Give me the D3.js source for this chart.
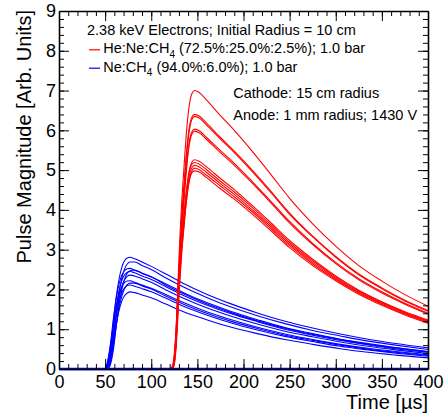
<!DOCTYPE html>
<html lang="en">
<head>
<meta charset="UTF-8">
<title>Pulse Magnitude vs Time</title>
<style>
  body { margin: 0; background: #fff; }
  svg { display: block; font-family: "Liberation Sans", Arial, Helvetica, sans-serif; }
  .axis path, .axis line { stroke: #000; }
  .axis text { font-size: 18px; fill: #000; }
</style>
</head>
<body>
<svg id="chart" width="445" height="418"></svg>
<script src="https://d3js.org/d3.v7.min.js"></script>
<script>
// time grid (µs) shared by the red (He:Ne:CH4) pulses
var redTimes = [0, 120, 123, 125, 127, 129, 131, 133, 135, 138, 141, 144, 147, 152, 160, 175, 190, 210, 230, 250, 275, 300, 325, 350, 375, 400];
var redPulses = [
  [0, 0, 0.05, 0.30, 1.00, 2.20, 3.30, 4.20, 4.90, 5.90, 6.60, 6.92, 7.00, 6.95, 6.76, 6.37, 6.00, 5.46, 4.88, 4.29, 3.65, 3.09, 2.60, 2.21, 1.87, 1.58],
  [0, 0, 0.04, 0.28, 0.92, 2.01, 3.01, 3.84, 4.48, 5.40, 6.04, 6.33, 6.40, 6.36, 6.18, 5.82, 5.48, 4.99, 4.46, 3.92, 3.34, 2.83, 2.39, 2.04, 1.73, 1.47],
  [0, 0, 0.02, 0.18, 0.75, 1.80, 2.85, 3.70, 4.40, 5.30, 5.95, 6.27, 6.35, 6.31, 6.13, 5.78, 5.44, 4.95, 4.43, 3.89, 3.32, 2.81, 2.37, 2.02, 1.71, 1.45],
  [0, 0, 0.04, 0.26, 0.86, 1.89, 2.84, 3.62, 4.22, 5.08, 5.69, 5.96, 6.03, 5.99, 5.82, 5.49, 5.17, 4.70, 4.21, 3.71, 3.16, 2.68, 2.27, 1.94, 1.65, 1.40],
  [0, 0, 0.02, 0.15, 0.65, 1.60, 2.60, 3.40, 4.05, 4.95, 5.60, 5.90, 5.98, 5.94, 5.77, 5.44, 5.12, 4.66, 4.17, 3.67, 3.13, 2.65, 2.24, 1.91, 1.63, 1.38],
  [0, 0, 0.04, 0.23, 0.75, 1.65, 2.48, 3.16, 3.68, 4.43, 4.96, 5.20, 5.26, 5.22, 5.08, 4.79, 4.51, 4.10, 3.67, 3.23, 2.76, 2.34, 1.98, 1.69, 1.44, 1.23],
  [0, 0, 0.08, 0.40, 1.05, 1.95, 2.75, 3.35, 3.80, 4.45, 4.93, 5.14, 5.19, 5.15, 5.01, 4.72, 4.45, 4.05, 3.62, 3.18, 2.72, 2.31, 1.96, 1.67, 1.42, 1.21],
  [0, 0, 0.04, 0.22, 0.73, 1.61, 2.41, 3.07, 3.58, 4.32, 4.83, 5.06, 5.12, 5.08, 4.94, 4.66, 4.39, 3.99, 3.57, 3.14, 2.68, 2.28, 1.93, 1.65, 1.40, 1.19],
  [0, 0, 0.01, 0.12, 0.55, 1.35, 2.20, 2.90, 3.45, 4.20, 4.72, 4.98, 5.05, 5.01, 4.87, 4.60, 4.33, 3.94, 3.52, 3.10, 2.64, 2.25, 1.91, 1.63, 1.38, 1.17],
  [0, 0, 0.03, 0.21, 0.71, 1.56, 2.35, 2.99, 3.49, 4.20, 4.70, 4.93, 4.98, 4.95, 4.81, 4.53, 4.27, 3.88, 3.47, 3.05, 2.60, 2.22, 1.88, 1.60, 1.36, 1.15]
];

// time grid (µs) shared by the blue (Ne:CH4) pulses
var blueTimes = [0, 50, 53, 56, 59, 62, 65, 68, 71, 74, 77, 82, 90, 100, 115, 135, 160, 185, 215, 245, 275, 305, 335, 365, 400];
var bluePulses = [
  [0, 0, 0.15, 0.55, 1.20, 1.80, 2.25, 2.55, 2.72, 2.79, 2.81, 2.77, 2.69, 2.58, 2.40, 2.15, 1.88, 1.65, 1.41, 1.20, 1.03, 0.88, 0.75, 0.64, 0.53],
  [0, 0, 0.04, 0.24, 0.73, 1.35, 1.89, 2.27, 2.51, 2.64, 2.69, 2.69, 2.60, 2.50, 2.30, 2.06, 1.80, 1.57, 1.34, 1.14, 0.97, 0.83, 0.70, 0.60, 0.49],
  [0, 0, 0.23, 0.68, 1.27, 1.77, 2.13, 2.35, 2.47, 2.52, 2.53, 2.48, 2.41, 2.31, 2.15, 1.92, 1.67, 1.46, 1.24, 1.04, 0.89, 0.75, 0.64, 0.54, 0.44],
  [0, 0, 0, 0.13, 0.49, 1.06, 1.60, 1.99, 2.26, 2.41, 2.47, 2.49, 2.41, 2.32, 2.12, 1.89, 1.64, 1.43, 1.21, 1.02, 0.87, 0.74, 0.62, 0.53, 0.43],
  [0, 0, 0.13, 0.48, 1.05, 1.57, 1.96, 2.22, 2.37, 2.43, 2.45, 2.42, 2.34, 2.25, 2.08, 1.85, 1.61, 1.40, 1.19, 1.00, 0.85, 0.72, 0.61, 0.51, 0.42],
  [0, 0, 0.07, 0.33, 0.83, 1.35, 1.77, 2.07, 2.24, 2.33, 2.36, 2.34, 2.27, 2.18, 2.00, 1.78, 1.54, 1.34, 1.13, 0.95, 0.81, 0.68, 0.57, 0.48, 0.39],
  [0, 0, 0.20, 0.60, 1.11, 1.55, 1.86, 2.06, 2.17, 2.21, 2.22, 2.18, 2.11, 2.03, 1.88, 1.67, 1.44, 1.25, 1.05, 0.88, 0.74, 0.62, 0.52, 0.44, 0.36],
  [0, 0, 0.03, 0.20, 0.59, 1.09, 1.52, 1.82, 2.02, 2.12, 2.16, 2.16, 2.09, 2.01, 1.84, 1.63, 1.40, 1.21, 1.02, 0.85, 0.72, 0.60, 0.50, 0.42, 0.34],
  [0, 0, 0.11, 0.41, 0.90, 1.35, 1.69, 1.91, 2.04, 2.10, 2.11, 2.08, 2.02, 1.94, 1.79, 1.58, 1.36, 1.17, 0.98, 0.82, 0.69, 0.57, 0.48, 0.40, 0.32],
  [0, 0, 0.06, 0.27, 0.68, 1.11, 1.46, 1.70, 1.84, 1.91, 1.94, 1.92, 1.86, 1.79, 1.64, 1.44, 1.24, 1.06, 0.89, 0.74, 0.62, 0.51, 0.42, 0.35, 0.28]
];

// flat blue trace lying on the time axis
var baselineTimes = [0, 400];
var baselineValues = [0, 0];

var xTicks = [0, 50, 100, 150, 200, 250, 300, 350, 400];
var yTicks = [0, 1, 2, 3, 4, 5, 6, 7, 8, 9];

var legendTitle = "2.38 keV Electrons; Initial Radius = 10 cm";
var legendEntries = [
  { color: "#ff0000", pre: "He:Ne:CH", sub: "4", post: " (72.5%:25.0%:2.5%); 1.0 bar" },
  { color: "#0000ff", pre: "Ne:CH", sub: "4", post: " (94.0%:6.0%); 1.0 bar" }
];
var notes = ["Cathode: 15 cm radius", "Anode: 1 mm radius; 1430 V"];

var frame = { left: 59, right: 428, top: 11, bottom: 369 };
var svg = d3.select("#chart");

var x = d3.scaleLinear().domain([0, 400]).range([frame.left, frame.right]);
var y = d3.scaleLinear().domain([0, 9]).range([frame.bottom, frame.top]);

function zip(times, vals) {
  return times.map(function(t, i) { return [t, vals[i]]; });
}

var line = d3.line()
  .x(function(d) { return x(d[0]); })
  .y(function(d) { return y(d[1]); })
  .curve(d3.curveMonotoneX);

// pulses
var plot = svg.append("g");
plot.selectAll(".blue")
  .data(bluePulses)
  .enter().append("path")
  .attr("class", "blue")
  .attr("d", function(d) { return line(zip(blueTimes, d)); })
  .attr("fill", "none")
  .attr("stroke", "#0000ff")
  .attr("stroke-width", 1.1);

plot.selectAll(".red")
  .data(redPulses)
  .enter().append("path")
  .attr("class", "red")
  .attr("d", function(d) { return line(zip(redTimes, d)); })
  .attr("fill", "none")
  .attr("stroke", "#ff0000")
  .attr("stroke-width", 1.1);

plot.append("path")
  .attr("d", line(zip(baselineTimes, baselineValues)))
  .attr("fill", "none")
  .attr("stroke", "#0000ff")
  .attr("stroke-width", 2.5);

// minor ticks on all four sides
var xMinor = d3.range(0, 400.1, 10);
var yMinor = d3.range(0, 9.01, 0.2);

function minorAxis(axis, scale, vals, transform) {
  svg.append("g")
    .attr("class", "axis")
    .attr("transform", transform)
    .call(axis(scale).tickValues(vals).tickSize(-5).tickSizeOuter(0).tickFormat(""))
    .call(function(g) { g.select(".domain").remove(); });
}
minorAxis(d3.axisBottom, x, xMinor, "translate(0," + frame.bottom + ")");
minorAxis(d3.axisTop, x, xMinor, "translate(0," + frame.top + ")");
minorAxis(d3.axisLeft, y, yMinor, "translate(" + frame.left + ",0)");
minorAxis(d3.axisRight, y, yMinor, "translate(" + frame.right + ",0)");

// major ticks + labels
svg.append("g")
  .attr("class", "axis")
  .attr("transform", "translate(0," + frame.bottom + ")")
  .call(d3.axisBottom(x).tickValues(xTicks).tickSize(-10).tickSizeOuter(0).tickPadding(6));
svg.append("g")
  .attr("class", "axis")
  .attr("transform", "translate(0," + frame.top + ")")
  .call(d3.axisTop(x).tickValues(xTicks).tickSize(-10).tickSizeOuter(0).tickFormat(""));
svg.append("g")
  .attr("class", "axis")
  .attr("transform", "translate(" + frame.left + ",0)")
  .call(d3.axisLeft(y).tickValues(yTicks).tickSize(-10).tickSizeOuter(0).tickPadding(3));
svg.append("g")
  .attr("class", "axis")
  .attr("transform", "translate(" + frame.right + ",0)")
  .call(d3.axisRight(y).tickValues(yTicks).tickSize(-10).tickSizeOuter(0).tickFormat(""));

svg.selectAll(".axis .domain").attr("stroke-width", 1.6);
svg.selectAll(".axis line").attr("stroke-width", 1);

// axis titles
svg.append("text")
  .attr("x", frame.right)
  .attr("y", 409)
  .attr("text-anchor", "end")
  .style("font-size", "20px")
  .text("Time [\u00b5s]");

svg.append("text")
  .attr("transform", "translate(31," + (frame.top - 1) + ") rotate(-90)")
  .attr("text-anchor", "end")
  .style("font-size", "20px")
  .text("Pulse Magnitude [Arb. Units]");

// legend
var legend = svg.append("g").style("font-size", "14.5px");
legend.append("text").attr("x", 87).attr("y", 35).text(legendTitle);

legendEntries.forEach(function(e, i) {
  var base = 53.3 + i * 18.4;
  legend.append("line")
    .attr("x1", 89).attr("x2", 100)
    .attr("y1", base - 3.5).attr("y2", base - 3.5)
    .attr("stroke", e.color).attr("stroke-width", 1.2);
  var t = legend.append("text").attr("x", 103.3).attr("y", base);
  t.append("tspan").text(e.pre);
  t.append("tspan").attr("dy", 4.5).style("font-size", "10px").text(e.sub);
  t.append("tspan").attr("dy", -4.5).text(e.post);
});

notes.forEach(function(n, i) {
  legend.append("text").attr("x", 233.3).attr("y", 98.3 + i * 21.7).text(n);
});
</script>
</body>
</html>
